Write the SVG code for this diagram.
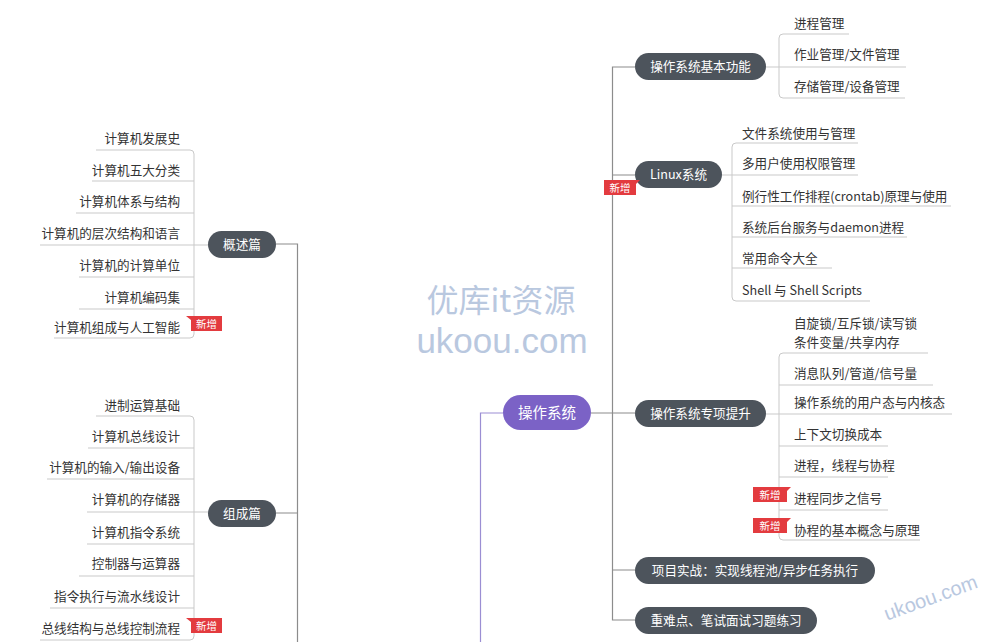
<svg xmlns="http://www.w3.org/2000/svg" width="1000" height="642" viewBox="0 0 1000 642">
<style>
.bg{fill:#ffffff}
.leaf{font-family:"Noto Sans CJK SC","Noto Sans",sans-serif;font-size:12.6px;fill:#333333}
.lt{text-anchor:end}
.node rect{fill:#4d545c}
.ntxt{font-family:"Noto Sans CJK SC","Noto Sans",sans-serif;font-size:12.6px;fill:#ffffff;text-anchor:middle}
.ul{fill:none;stroke:#c9c9c9;stroke-width:1}
.trunk{fill:none;stroke:#8c8c8c;stroke-width:1.2}
.purple{fill:none;stroke:#9b8ed3;stroke-width:1.2}
.tag path{fill:#e33b3f}
.tag text{font-family:"Noto Sans CJK SC",sans-serif;font-size:10.5px;fill:#ffffff;text-anchor:middle}
.wm{fill:#b9c8df;text-anchor:middle}
</style>
<rect class="bg" x="0" y="0" width="1000" height="642"/>

<g id="connectors">
  <path class="purple" d="M503,413 H480.5 V642"/>
  <path class="trunk" d="M276,244 H297.5 V642 M276,513 H297.5"/>
  <path class="trunk" d="M591,413 H635 M635,67 H612.5 V620 H635 M612.5,175 H635 M612.5,570 H635"/>
  <path class="ul" d="M96,150 H190 Q194,150 194,154 V334 Q194,338 190,338 H54"/>
  <path class="ul" d="M92,181 H194 M76,213 H194 M40,245 H208 M79,277 H194 M79,309 H194"/>
  <path class="ul" d="M96,416 H190 Q194,416 194,420 V636 Q194,640 190,640 H40"/>
  <path class="ul" d="M88,448 H194 M47,479 H194 M87,512 H208 M87,544 H194 M79,576 H194 M50,608 H194"/>
  <path class="ul" d="M849,34 H783 Q779,34 779,38 V94 Q779,98 783,98 H905"/>
  <path class="ul" d="M766,67 H906"/>
  <path class="ul" d="M858,143 H736 Q732,143 732,147 V297 Q732,301 736,301 H870"/>
  <path class="ul" d="M722,175 H858 M732,206 H951 M732,237 H907 M732,268 H832"/>
  <path class="ul" d="M928,353 H783 Q779,353 779,357 V536 Q779,540 783,540 H920"/>
  <path class="ul" d="M779,385 H933 M766,414 H952 M779,446 H888 M779,477 H888 M779,510 H888"/>
</g>

<g id="watermark">
  <text class="wm" x="501" y="312" font-size="32" font-family="Noto Sans CJK SC,sans-serif">优库it资源</text>
  <text class="wm" x="502" y="353" font-size="35" font-family="Liberation Sans,Arial,sans-serif">ukoou.com</text>
  <text class="wm" x="0" y="0" font-size="20" font-family="Liberation Sans,Arial,sans-serif" fill="#c3d1ea" transform="translate(933,604) rotate(-20)">ukoou.com</text>
</g>

<g id="root">
  <rect x="503" y="395" width="88" height="35" rx="17.5" fill="#7b62c6"/>
  <text x="547" y="418" font-family="Noto Sans CJK SC,sans-serif" font-size="14.5" fill="#ffffff" text-anchor="middle">操作系统</text>
</g>

<g id="n-gaishu" class="node"><rect x="208" y="231" width="68" height="27" rx="13.5"/><text class="ntxt" x="242" y="249">概述篇</text></g>
<g id="n-zucheng" class="node"><rect x="208" y="500" width="68" height="27" rx="13.5"/><text class="ntxt" x="242" y="518">组成篇</text></g>
<g id="n-jiben" class="node"><rect x="635" y="53" width="131" height="27" rx="13.5"/><text class="ntxt" x="700.5" y="71">操作系统基本功能</text></g>
<g id="n-linux" class="node"><rect x="635" y="161" width="87" height="27" rx="13.5"/><text class="ntxt" x="678.5" y="179">Linux系统</text></g>
<g id="n-zhuanxiang" class="node"><rect x="635" y="400" width="131" height="27" rx="13.5"/><text class="ntxt" x="700.5" y="418">操作系统专项提升</text></g>
<g id="n-xiangmu" class="node"><rect x="635" y="557" width="240" height="27" rx="13.5"/><text class="ntxt" x="755" y="575">项目实战：实现线程池/异步任务执行</text></g>
<g id="n-zhongnan" class="node"><rect x="635" y="607" width="182" height="27" rx="13.5"/><text class="ntxt" x="726" y="625">重难点、笔试面试习题练习</text></g>

<g id="leaves-gaishu">
  <text class="leaf lt" x="180" y="143">计算机发展史</text>
  <text class="leaf lt" x="180" y="175">计算机五大分类</text>
  <text class="leaf lt" x="180" y="206">计算机体系与结构</text>
  <text class="leaf lt" x="180" y="238">计算机的层次结构和语言</text>
  <text class="leaf lt" x="180" y="270">计算机的计算单位</text>
  <text class="leaf lt" x="180" y="302">计算机编码集</text>
  <text class="leaf lt" x="180" y="332">计算机组成与人工智能</text>
</g>
<g id="leaves-zucheng">
  <text class="leaf lt" x="180" y="410">进制运算基础</text>
  <text class="leaf lt" x="180" y="441">计算机总线设计</text>
  <text class="leaf lt" x="180" y="472">计算机的输入/输出设备</text>
  <text class="leaf lt" x="180" y="504">计算机的存储器</text>
  <text class="leaf lt" x="180" y="537">计算机指令系统</text>
  <text class="leaf lt" x="180" y="568">控制器与运算器</text>
  <text class="leaf lt" x="180" y="601">指令执行与流水线设计</text>
  <text class="leaf lt" x="180" y="633">总线结构与总线控制流程</text>
</g>
<g id="leaves-jiben">
  <text class="leaf" x="794" y="28">进程管理</text>
  <text class="leaf" x="794" y="59">作业管理/文件管理</text>
  <text class="leaf" x="794" y="91">存储管理/设备管理</text>
</g>
<g id="leaves-linux">
  <text class="leaf" x="742" y="138">文件系统使用与管理</text>
  <text class="leaf" x="742" y="168">多用户使用权限管理</text>
  <text class="leaf" x="742" y="201">例行性工作排程(crontab)原理与使用</text>
  <text class="leaf" x="742" y="232">系统后台服务与daemon进程</text>
  <text class="leaf" x="742" y="263">常用命令大全</text>
  <text class="leaf" x="742" y="295">Shell 与 Shell Scripts</text>
</g>
<g id="leaves-zhuanxiang">
  <text class="leaf" x="794" y="328">自旋锁/互斥锁/读写锁</text>
  <text class="leaf" x="794" y="347">条件变量/共享内存</text>
  <text class="leaf" x="794" y="378">消息队列/管道/信号量</text>
  <text class="leaf" x="794" y="407">操作系统的用户态与内核态</text>
  <text class="leaf" x="794" y="439">上下文切换成本</text>
  <text class="leaf" x="794" y="470">进程，线程与协程</text>
  <text class="leaf" x="794" y="503">进程同步之信号</text>
  <text class="leaf" x="794" y="535">协程的基本概念与原理</text>
</g>

<g id="tags">
  <g class="tag"><path d="M186,316 H222 V331 H191 V320 Z"/><text x="206.5" y="327.5">新增</text></g>
  <g class="tag"><path d="M186,618 H222 V633 H191 V622 Z"/><text x="206.5" y="629.5">新增</text></g>
  <g class="tag"><path d="M640,180 H604 V195 H636 V184 Z"/><text x="620" y="191.5">新增</text></g>
  <g class="tag"><path d="M791,487 H753 V502 H787 V491 Z"/><text x="770" y="498.5">新增</text></g>
  <g class="tag"><path d="M791,518 H753 V533 H787 V522 Z"/><text x="770" y="529.5">新增</text></g>
</g>
</svg>
